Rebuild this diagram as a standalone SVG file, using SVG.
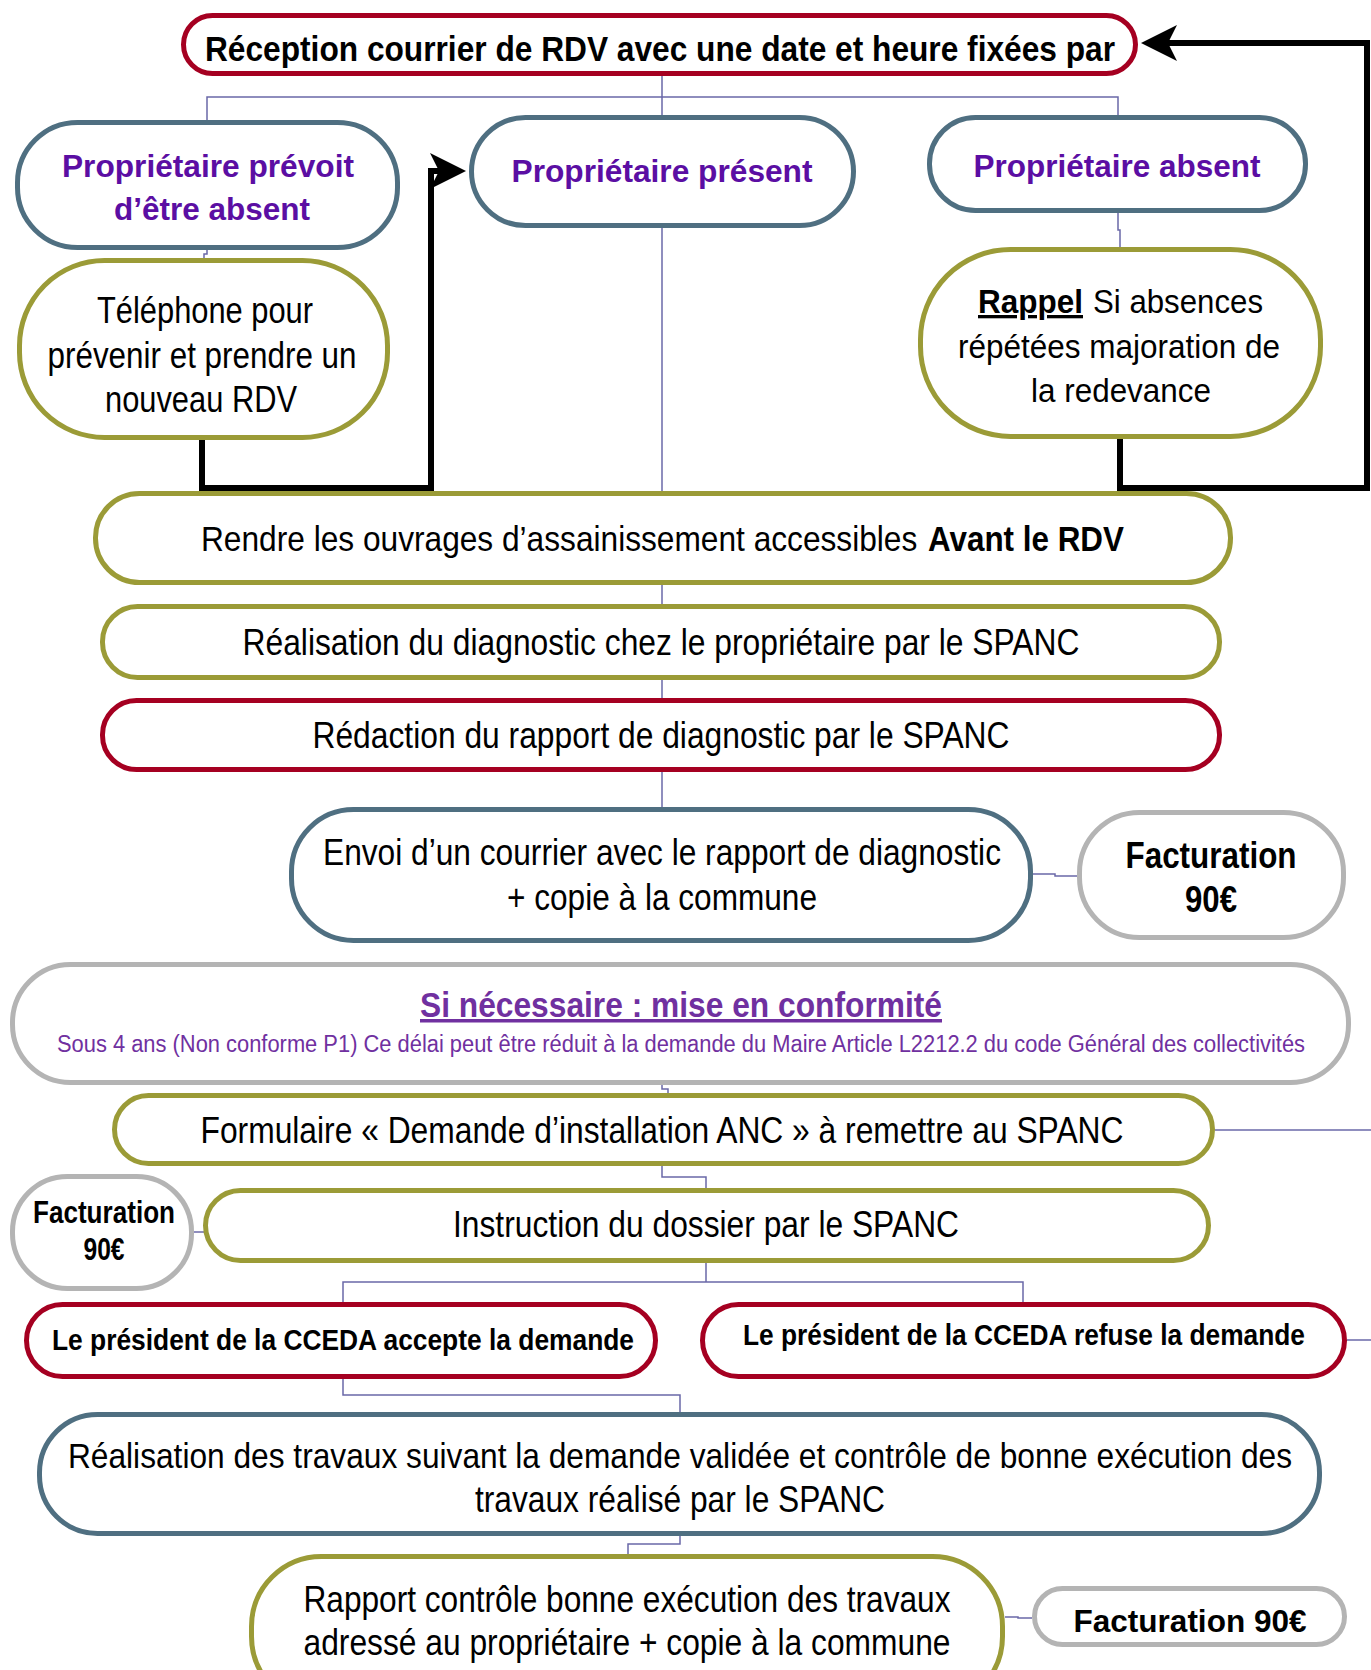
<svg xmlns="http://www.w3.org/2000/svg" width="1371" height="1670" viewBox="0 0 1371 1670">
<style>
.n rect{fill:#fff;stroke-width:5}
.red rect{stroke:#a50021}
.slate rect{stroke:#4f6f81}
.olive rect{stroke:#9b9b37}
.gray rect{stroke:#b4b4b4}
text{font-family:"Liberation Sans",Arial,sans-serif;text-anchor:middle;fill:#000}
.s{text-anchor:start}
.b{font-weight:bold}
.pu{fill:#5b0ea3}
.pv{fill:#7030a0}
.u{text-decoration:underline}
.c{fill:none;stroke:#6a68a8;stroke-width:1.5}
.k{fill:none;stroke:#000;stroke-width:6}
</style>
<defs>
<marker id="arr" viewBox="0 0 36 36" markerUnits="userSpaceOnUse" markerWidth="36" markerHeight="36" refX="20" refY="18" orient="auto">
<path d="M0,0 L36,18 L0,36 L9,18 Z" fill="#000"/>
</marker>
</defs>
<g id="connectors">
<path class="c" d="M662 76 V97 M207 120 V97 H1118 V115 M662 97 V115"/>
<path class="c" d="M207 250 V254 H204 V258"/>
<path class="c" d="M662 228 V491"/>
<path class="c" d="M1118 213 V230 H1120 V247"/>
<path class="c" d="M662 585 V604"/>
<path class="c" d="M662 680 V698"/>
<path class="c" d="M662 772 V807"/>
<path class="c" d="M1033 874 H1055 V876 H1077"/>
<path class="c" d="M662 1085 V1089 H668 V1093"/>
<path class="c" d="M1215 1130 H1371"/>
<path class="c" d="M662 1166 V1177 H706 V1188"/>
<path class="c" d="M194 1232 H210"/>
<path class="c" d="M706 1263 V1282 M343 1302 V1282 H1023 V1302"/>
<path class="c" d="M1347 1340 H1371"/>
<path class="c" d="M343 1379 V1395 H680 V1412"/>
<path class="c" d="M680 1536 V1544 H628 V1554"/>
<path class="c" d="M1005 1617 H1018 V1618 H1032"/>
<path class="k" d="M202 438 V488 H431 V171 H450" marker-end="url(#arr)"/>
<path class="k" d="M1120 438 V488 H1367 V43 H1157" marker-end="url(#arr)"/>
</g>
<g id="n-reception" class="n red">
<rect x="183.5" y="15.5" width="952" height="58" rx="29"/>
<text class="b" x="660" y="61" font-size="35" textLength="910" lengthAdjust="spacingAndGlyphs">Réception courrier de RDV avec une date et heure fixées par</text>
</g>
<g id="n-prevoit" class="n slate">
<rect x="17.5" y="122.5" width="380" height="125" rx="60"/>
<text class="b pu" x="208" y="177" font-size="32" textLength="292" lengthAdjust="spacingAndGlyphs">Propriétaire prévoit</text>
<text class="b pu" x="212" y="220" font-size="32" textLength="196" lengthAdjust="spacingAndGlyphs">d’être absent</text>
</g>
<g id="n-present" class="n slate">
<rect x="471.5" y="117.5" width="382" height="108" rx="54"/>
<text class="b pu" x="662" y="182" font-size="32" textLength="301" lengthAdjust="spacingAndGlyphs">Propriétaire présent</text>
</g>
<g id="n-absent" class="n slate">
<rect x="929.5" y="117.5" width="376" height="93" rx="46"/>
<text class="b pu" x="1117" y="177" font-size="32" textLength="287" lengthAdjust="spacingAndGlyphs">Propriétaire absent</text>
</g>
<g id="n-telephone" class="n olive">
<rect x="19.5" y="260.5" width="368" height="177" rx="85"/>
<text x="205" y="323" font-size="36" textLength="216" lengthAdjust="spacingAndGlyphs">Téléphone pour</text>
<text x="202" y="368" font-size="36" textLength="309" lengthAdjust="spacingAndGlyphs">prévenir et prendre un</text>
<text x="201" y="412" font-size="36" textLength="192" lengthAdjust="spacingAndGlyphs">nouveau RDV</text>
</g>
<g id="n-rappel" class="n olive">
<rect x="920.5" y="249.5" width="400" height="187" rx="90"/>
<text class="s b u" x="978" y="313" font-size="33" textLength="105" lengthAdjust="spacingAndGlyphs">Rappel</text>
<text class="s" x="1093" y="313" font-size="33" textLength="170" lengthAdjust="spacingAndGlyphs">Si absences</text>
<text x="1119" y="358" font-size="33" textLength="322" lengthAdjust="spacingAndGlyphs">répétées majoration de</text>
<text x="1121" y="402" font-size="33" textLength="180" lengthAdjust="spacingAndGlyphs">la redevance</text>
</g>
<g id="n-rendre" class="n olive">
<rect x="95.5" y="493.5" width="1135" height="89" rx="44"/>
<text class="s" transform="translate(201 551) scale(0.88 1)" x="0" y="0" font-size="36" textLength="814" lengthAdjust="spacingAndGlyphs">Rendre les ouvrages d’assainissement accessibles</text>
<text class="s b" transform="translate(928 551) scale(0.867 1)" x="0" y="0" font-size="36" textLength="226" lengthAdjust="spacingAndGlyphs">Avant le RDV</text>
</g>
<g id="n-realisation" class="n olive">
<rect x="102.5" y="606.5" width="1117" height="71" rx="35"/>
<text x="661" y="655" font-size="36" textLength="837" lengthAdjust="spacingAndGlyphs">Réalisation du diagnostic chez le propriétaire par le SPANC</text>
</g>
<g id="n-redaction" class="n red">
<rect x="102.5" y="700.5" width="1117" height="69" rx="34"/>
<text x="661" y="748" font-size="36" textLength="697" lengthAdjust="spacingAndGlyphs">Rédaction du rapport de diagnostic par le SPANC</text>
</g>
<g id="n-envoi" class="n slate">
<rect x="291.5" y="809.5" width="739" height="131" rx="62"/>
<text x="662" y="865" font-size="36" textLength="678" lengthAdjust="spacingAndGlyphs">Envoi d’un courrier avec le rapport de diagnostic</text>
<text x="662" y="910" font-size="36" textLength="310" lengthAdjust="spacingAndGlyphs">+ copie à la commune</text>
</g>
<g id="n-factu1" class="n gray">
<rect x="1079.5" y="812.5" width="264" height="125" rx="60"/>
<text class="b" x="1211" y="868" font-size="36" textLength="171" lengthAdjust="spacingAndGlyphs">Facturation</text>
<text class="b" x="1211" y="912" font-size="36" textLength="52" lengthAdjust="spacingAndGlyphs">90€</text>
</g>
<g id="n-conformite" class="n gray">
<rect x="12.5" y="964.5" width="1336" height="118" rx="58"/>
<text class="b pv u" x="681" y="1017" font-size="35" textLength="522" lengthAdjust="spacingAndGlyphs">Si nécessaire : mise en conformité</text>
<text class="pv" x="681" y="1052" font-size="23" textLength="1248" lengthAdjust="spacingAndGlyphs">Sous 4 ans (Non conforme P1) Ce délai peut être réduit à la demande du Maire Article L2212.2 du code Général des collectivités</text>
</g>
<g id="n-formulaire" class="n olive">
<rect x="114.5" y="1095.5" width="1098" height="68" rx="34"/>
<text x="662" y="1143" font-size="36" textLength="923" lengthAdjust="spacingAndGlyphs">Formulaire « Demande d’installation ANC » à remettre au SPANC</text>
</g>
<g id="n-instruction" class="n olive">
<rect x="205.5" y="1190.5" width="1003" height="70" rx="35"/>
<text x="706" y="1237" font-size="36" textLength="506" lengthAdjust="spacingAndGlyphs">Instruction du dossier par le SPANC</text>
</g>
<g id="n-factu2" class="n gray">
<rect x="12.5" y="1176.5" width="179" height="112" rx="55"/>
<text class="b" x="104" y="1223" font-size="31" textLength="142" lengthAdjust="spacingAndGlyphs">Facturation</text>
<text class="b" x="104" y="1260" font-size="31" textLength="41" lengthAdjust="spacingAndGlyphs">90€</text>
</g>
<g id="n-accepte" class="n red">
<rect x="26.5" y="1304.5" width="629" height="72" rx="36"/>
<text class="b" x="343" y="1350" font-size="29" textLength="582" lengthAdjust="spacingAndGlyphs">Le président de la CCEDA accepte la demande</text>
</g>
<g id="n-refuse" class="n red">
<rect x="702.5" y="1304.5" width="642" height="72" rx="36"/>
<text class="b" x="1024" y="1345" font-size="29" textLength="562" lengthAdjust="spacingAndGlyphs">Le président de la CCEDA refuse la demande</text>
</g>
<g id="n-travaux" class="n slate">
<rect x="39.5" y="1414.5" width="1280" height="119" rx="58"/>
<text transform="translate(680 1468) scale(0.875 1)" x="0" y="0" font-size="36" textLength="1399" lengthAdjust="spacingAndGlyphs">Réalisation des travaux suivant la demande validée et contrôle de bonne exécution des</text>
<text x="680" y="1512" font-size="36" textLength="410" lengthAdjust="spacingAndGlyphs">travaux réalisé par le SPANC</text>
</g>
<g id="n-rapport" class="n olive">
<rect x="251.5" y="1556.5" width="751" height="150" rx="70"/>
<text x="627" y="1612" font-size="36" textLength="647" lengthAdjust="spacingAndGlyphs">Rapport contrôle bonne exécution des travaux</text>
<text x="627" y="1655" font-size="36" textLength="647" lengthAdjust="spacingAndGlyphs">adressé au propriétaire + copie à la commune</text>
</g>
<g id="n-factu3" class="n gray">
<rect x="1034.5" y="1588.5" width="310" height="56" rx="28"/>
<text class="b" x="1190" y="1632" font-size="32" textLength="233" lengthAdjust="spacingAndGlyphs">Facturation 90€</text>
</g>
</svg>
